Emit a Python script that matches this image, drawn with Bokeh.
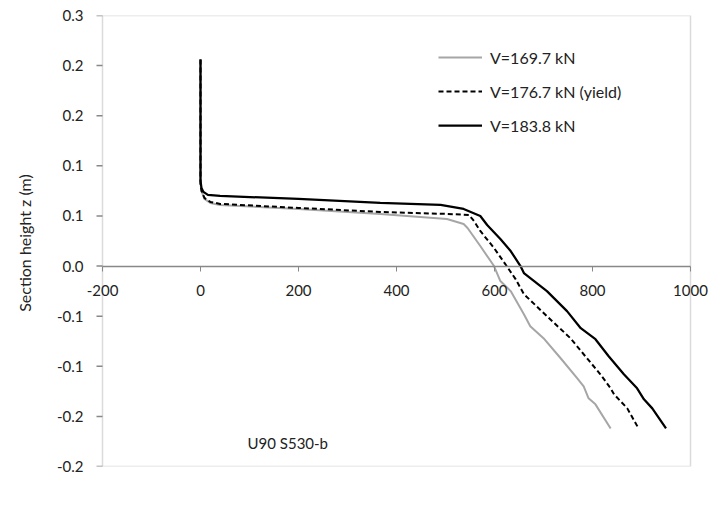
from bokeh.plotting import figure
from bokeh.models import (FixedTicker, Range1d, Legend, LegendItem, Label,
                          CustomJSTickFormatter, BoxAnnotation)
from bokeh.embed import file_html
from bokeh.resources import INLINE

FONT = "Lato"

# Series: stress in FRP (MPa) vs section height z (m)
s1_label = "V=169.7 kN"
s1_stress = [0, 0, 2, 8, 20, 40, 200, 367, 503, 537, 545, 571, 599, 612, 633, 660,
             673, 700, 735, 769, 782, 792, 806, 837]
s1_z = [0.206, 0.082, 0.075, 0.067, 0.063, 0.061, 0.057, 0.052, 0.047, 0.042, 0.038,
        0.020, 0.0, -0.015, -0.025, -0.048, -0.060, -0.072, -0.092, -0.112, -0.120,
        -0.132, -0.138, -0.162]

s2_label = "V=176.7 kN (yield)"
s2_stress = [0, 0, 2, 8, 20, 40, 200, 367, 503, 548, 558, 571, 599, 622, 643, 660,
             707, 755, 782, 816, 837, 844, 871, 894]
s2_z = [0.206, 0.082, 0.075, 0.068, 0.064, 0.062, 0.058, 0.054, 0.052, 0.051, 0.045,
        0.035, 0.018, 0.002, -0.013, -0.028, -0.050, -0.072, -0.088, -0.108, -0.122,
        -0.128, -0.142, -0.162]

s3_label = "V=183.8 kN"
s3_stress = [0, 0, 2, 6, 15, 40, 200, 367, 490, 537, 571, 585, 612, 633, 653, 660,
             707, 748, 776, 806, 833, 864, 891, 905, 922, 950]
s3_z = [0.206, 0.085, 0.078, 0.074, 0.071, 0.070, 0.067, 0.063, 0.061, 0.057, 0.050,
        0.041, 0.027, 0.015, 0.0, -0.007, -0.025, -0.045, -0.062, -0.073, -0.090,
        -0.108, -0.122, -0.133, -0.142, -0.162]

x_ticks = [-200, 0, 200, 400, 600, 800, 1000]
y_ticks = [-0.2, -0.15, -0.1, -0.05, 0, 0.05, 0.1, 0.15, 0.2, 0.25]

x_title = "Stresses in FRP (MPa)"
y_title = "Section height  z (m)"
note = "U90 S530-b"

AX = "#888888"
TXT = "#222222"

# scale: 0.49 px per MPa; plot box spans x_ticks[0]..x_ticks[-1]
PX = 0.49
LEFT_PAD = 18    # px of frame left of the plot box (room for the "-200" label)
RIGHT_PAD = 30   # px of frame right of the plot box
x_lo = x_ticks[0] - LEFT_PAD / PX
x_hi = x_ticks[-1] + RIGHT_PAD / PX

p = figure(width=720, height=509, output_backend="svg", toolbar_location=None,
           x_range=Range1d(x_lo, x_hi), y_range=Range1d(y_ticks[0], y_ticks[-1]),
           min_border_left=84, min_border_right=0, min_border_top=15,
           min_border_bottom=43, background_fill_color="white",
           border_fill_color="white")
p.grid.visible = False
p.outline_line_color = None

# plot-area border
p.add_layout(BoxAnnotation(left=x_ticks[0], right=x_ticks[-1], bottom=y_ticks[0],
                           top=y_ticks[-1], fill_alpha=0, line_color=AX,
                           line_width=1.5))

# x axis crossing at z = 0; its tick labels are drawn as Label annotations
xa = p.xaxis[0]
xa.fixed_location = 0
xa.bounds = (x_ticks[0], x_ticks[-1])
xa.ticker = FixedTicker(ticks=x_ticks)
xa.axis_line_color = AX
xa.axis_line_width = 1.5
xa.major_tick_line_color = AX
xa.major_tick_out = 5
xa.major_tick_in = 0
xa.minor_tick_line_color = None
xa.major_label_text_font_size = "0px"
xa.major_label_text_alpha = 0

for t in x_ticks:
    p.add_layout(Label(x=t, y=0, y_offset=-24, text=str(t), text_font=FONT,
                       text_font_size="15px", text_color=TXT,
                       text_baseline="middle", text_align="center"))

# y axis: labels from the axis, line/ticks at the plot box edge
ya = p.yaxis[0]
ya.ticker = FixedTicker(ticks=y_ticks)
ya.formatter = CustomJSTickFormatter(code="""
const s = tick < 0 ? -1 : 1;
const v = Math.round(Math.abs(tick) * 10 + 1e-9) / 10;
return (v === 0 ? "0.0" : (s < 0 ? "-" : "") + v.toFixed(1));
""")
ya.axis_line_color = None
ya.major_tick_line_color = None
ya.major_tick_out = 0
ya.major_tick_in = 0
ya.minor_tick_line_color = None
ya.major_label_text_font = FONT
ya.major_label_text_font_size = "15px"
ya.major_label_text_color = TXT
ya.major_label_standoff = 1
ya.axis_label = y_title
ya.axis_label_text_font = FONT
ya.axis_label_text_font_size = "16px"
ya.axis_label_text_font_style = "normal"
ya.axis_label_text_color = TXT
ya.axis_label_standoff = 20

n = len(y_ticks)
p.segment(x0=[x_ticks[0]] * n, y0=y_ticks, x1=[x_ticks[0] - 6 / PX] * n, y1=y_ticks,
          line_color=AX, line_width=1.5)

r1 = p.line(s1_stress, s1_z, line_color="#a6a6a6", line_width=2)
r2 = p.line(s2_stress, s2_z, line_color="black", line_width=2, line_dash="5 3")
r3 = p.line(s3_stress, s3_z, line_color="black", line_width=2.25)

legend = Legend(items=[LegendItem(label=s1_label, renderers=[r1]),
                       LegendItem(label=s2_label, renderers=[r2]),
                       LegendItem(label=s3_label, renderers=[r3])],
                location=(336 + LEFT_PAD, 331), orientation="vertical",
                glyph_width=44, glyph_height=20, label_height=20,
                spacing=14, padding=0, margin=0, label_standoff=8,
                border_line_color=None, background_fill_alpha=0,
                label_text_font=FONT, label_text_font_size="16px",
                label_text_color=TXT)
p.add_layout(legend, "center")

p.add_layout(Label(x=96, y=-0.177, text=note, text_font=FONT,
                   text_font_size="15px", text_color=TXT,
                   text_baseline="middle", text_align="left"))
p.add_layout(Label(x=357, y=-0.232, text=x_title, text_font=FONT,
                   text_font_size="16px", text_color=TXT,
                   text_baseline="middle", text_align="center"))

open("out.html", "w").write(file_html(p, INLINE))
